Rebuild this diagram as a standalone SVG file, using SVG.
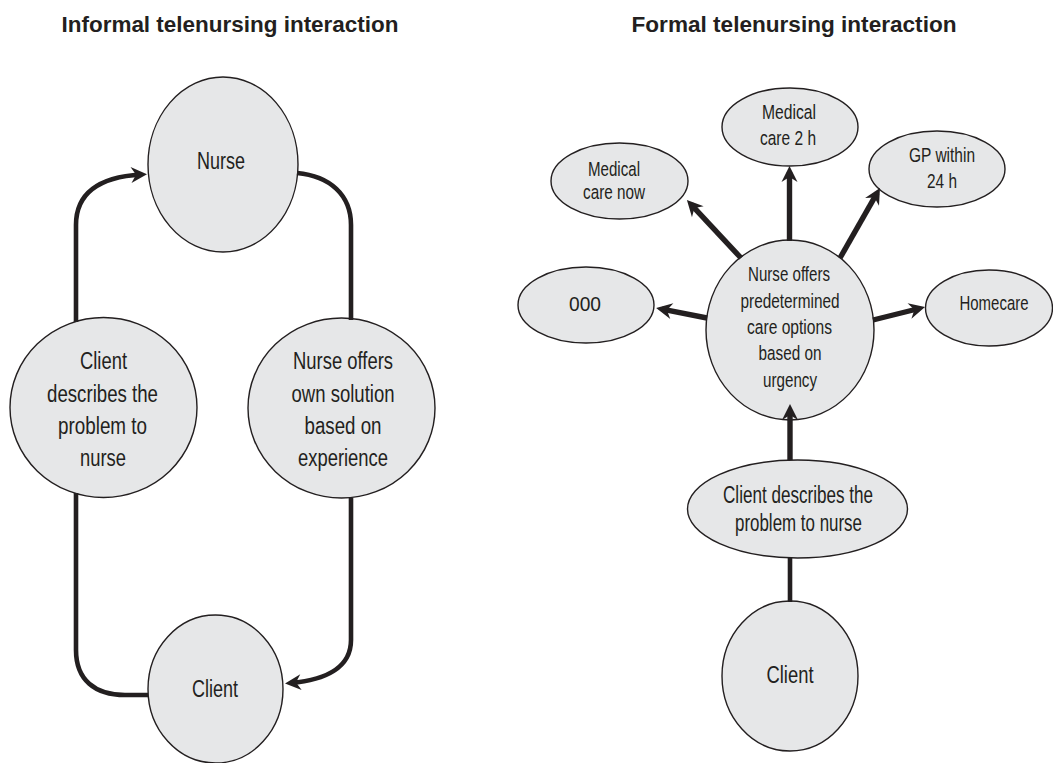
<svg xmlns="http://www.w3.org/2000/svg" width="1053" height="763" viewBox="0 0 1053 763">
<style>
.node ellipse{fill:#e6e7e8;stroke:#231f20;stroke-width:1.4}
.t{font-family:"Liberation Sans",Arial,sans-serif;fill:#231f20;text-anchor:middle}
.l{font-size:23.5px}
.r{font-size:20.5px}
.title{font-family:"Liberation Sans",Arial,sans-serif;font-weight:bold;font-size:22px;fill:#231f20;text-anchor:middle}
.c{fill:none;stroke:#231f20;stroke-width:4.6}
.a{fill:none;stroke:#231f20;stroke-width:5.4;marker-end:url(#ah)}
.ca{fill:none;stroke:#231f20;stroke-width:4.6;marker-end:url(#ah)}
</style>
<defs>
<marker id="ah" markerUnits="userSpaceOnUse" viewBox="-20 -12 32 24" refX="0" refY="0" markerWidth="32" markerHeight="24" orient="auto" overflow="visible">
<path d="M6,0 L-10,-8 L-5,0 L-10,8 Z" fill="#231f20"/>
</marker>
</defs>
<rect width="1053" height="763" fill="#ffffff"/>
<text class="title" x="230" y="32" textLength="337" lengthAdjust="spacingAndGlyphs">Informal telenursing interaction</text>
<text class="title" x="794" y="32" textLength="325" lengthAdjust="spacingAndGlyphs">Formal telenursing interaction</text>

<g id="nurse-informal" class="node">
<ellipse cx="223" cy="164.5" rx="75" ry="87.5"/>
<text class="t l" x="221" y="169" textLength="48" lengthAdjust="spacingAndGlyphs">Nurse</text>
</g>
<g id="client-describes-informal" class="node">
<ellipse cx="103.5" cy="407.5" rx="93.5" ry="90"/>
<text class="t l" x="103.5" y="369" textLength="47" lengthAdjust="spacingAndGlyphs">Client</text>
<text class="t l" x="102.5" y="402" textLength="111" lengthAdjust="spacingAndGlyphs">describes the</text>
<text class="t l" x="102.5" y="434" textLength="89" lengthAdjust="spacingAndGlyphs">problem to</text>
<text class="t l" x="103" y="466" textLength="46" lengthAdjust="spacingAndGlyphs">nurse</text>
</g>
<g id="nurse-offers-informal" class="node">
<ellipse cx="341.5" cy="408" rx="93.5" ry="90"/>
<text class="t l" x="343" y="369" textLength="100" lengthAdjust="spacingAndGlyphs">Nurse offers</text>
<text class="t l" x="343" y="402" textLength="103" lengthAdjust="spacingAndGlyphs">own solution</text>
<text class="t l" x="343" y="434" textLength="77" lengthAdjust="spacingAndGlyphs">based on</text>
<text class="t l" x="343" y="466" textLength="90" lengthAdjust="spacingAndGlyphs">experience</text>
</g>
<g id="client-informal" class="node">
<ellipse cx="215.5" cy="689" rx="67.5" ry="74"/>
<text class="t l" x="215" y="697" textLength="46" lengthAdjust="spacingAndGlyphs">Client</text>
</g>

<g id="medical-care-2h" class="node">
<ellipse cx="790" cy="127" rx="68" ry="39"/>
<text class="t r" x="789" y="119" textLength="54" lengthAdjust="spacingAndGlyphs">Medical</text>
<text class="t r" x="788" y="145" textLength="56" lengthAdjust="spacingAndGlyphs">care 2 h</text>
</g>
<g id="medical-care-now" class="node">
<ellipse cx="619.5" cy="181" rx="68.5" ry="38"/>
<text class="t r" x="614" y="176" textLength="52" lengthAdjust="spacingAndGlyphs">Medical</text>
<text class="t r" x="614" y="199" textLength="62" lengthAdjust="spacingAndGlyphs">care now</text>
</g>
<g id="gp-within-24h" class="node">
<ellipse cx="937" cy="169" rx="68" ry="38"/>
<text class="t r" x="942" y="162" textLength="66" lengthAdjust="spacingAndGlyphs">GP within</text>
<text class="t r" x="942" y="188" textLength="30" lengthAdjust="spacingAndGlyphs">24 h</text>
</g>
<g id="n000" class="node">
<ellipse cx="586" cy="305" rx="68" ry="38"/>
<text class="t r" x="585" y="311" textLength="32" lengthAdjust="spacingAndGlyphs">000</text>
</g>
<g id="homecare" class="node">
<ellipse cx="989" cy="308" rx="63.5" ry="38"/>
<text class="t r" x="994" y="310" textLength="69" lengthAdjust="spacingAndGlyphs">Homecare</text>
</g>
<g id="nurse-offers-formal" class="node">
<ellipse cx="790" cy="330" rx="84" ry="90"/>
<text class="t r" x="789" y="281" textLength="82" lengthAdjust="spacingAndGlyphs">Nurse offers</text>
<text class="t r" x="790" y="308" textLength="99" lengthAdjust="spacingAndGlyphs">predetermined</text>
<text class="t r" x="789.5" y="334" textLength="85" lengthAdjust="spacingAndGlyphs">care options</text>
<text class="t r" x="790" y="360" textLength="63" lengthAdjust="spacingAndGlyphs">based on</text>
<text class="t r" x="790" y="387" textLength="54" lengthAdjust="spacingAndGlyphs">urgency</text>
</g>
<g id="client-describes-formal" class="node">
<ellipse cx="797.5" cy="509" rx="110" ry="49"/>
<text class="t l" x="798" y="503" textLength="150" lengthAdjust="spacingAndGlyphs">Client describes the</text>
<text class="t l" x="798.5" y="531" textLength="127" lengthAdjust="spacingAndGlyphs">problem to nurse</text>
</g>
<g id="client-formal" class="node">
<ellipse cx="790" cy="676" rx="68" ry="75"/>
<text class="t l" x="790" y="683" textLength="47" lengthAdjust="spacingAndGlyphs">Client</text>
</g>

<g id="connectors">
<path class="ca" d="M76,322 V225 C76,192 100,177 141,174.5"/>
<path class="c" d="M297,173 C330,176 351,195 351,225 V320"/>
<path class="c" d="M76,493 V650 C76,680 95,695 125,695 H148"/>
<path class="ca" d="M351,498 V640 C351,668 325,680 291,683"/>
<path class="a" d="M741,258 L691,204.4"/>
<path class="a" d="M789.5,241 V172"/>
<path class="a" d="M840,258 L877,193.2"/>
<path class="a" d="M707,318 L662,309.2"/>
<path class="a" d="M873,320 L919.2,308.5"/>
<path class="a" d="M790,460 V410"/>
<path class="c" d="M790,602 V558"/>
</g>
</svg>
